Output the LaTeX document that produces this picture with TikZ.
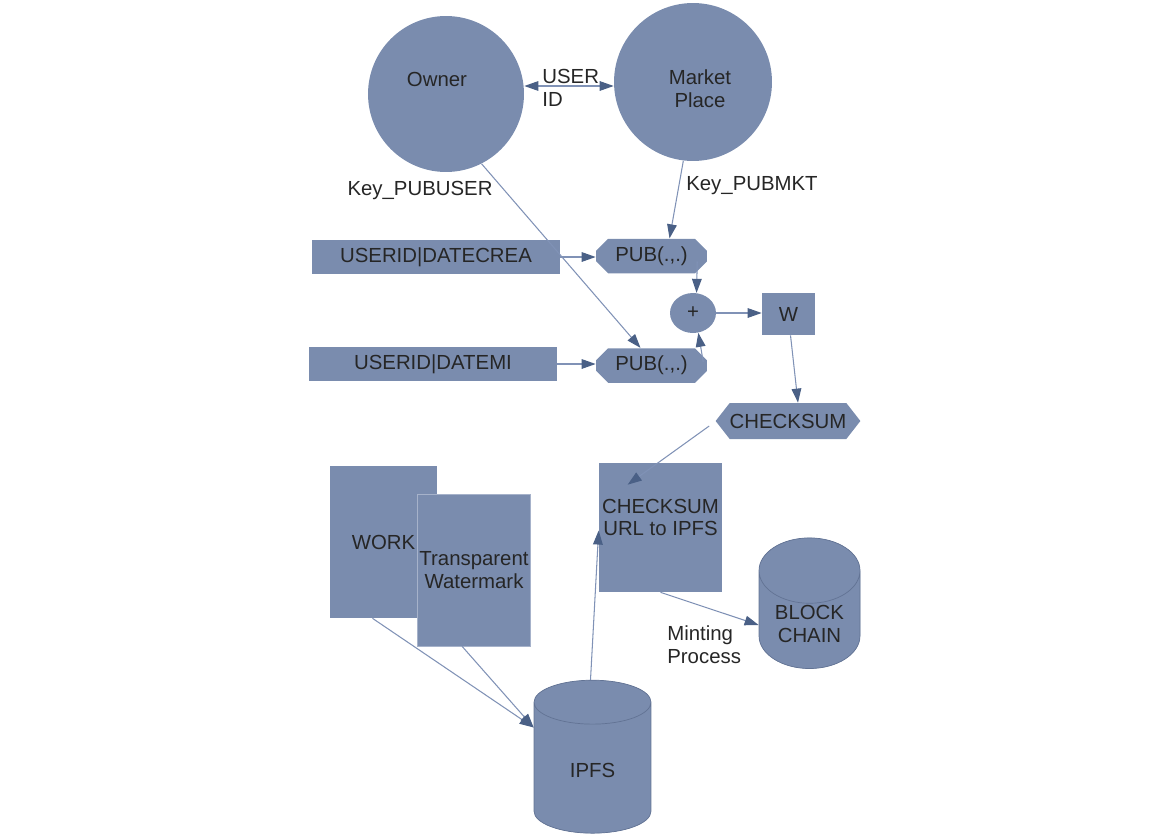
\documentclass[tikz,border=0pt]{standalone}
\usepackage{fontspec}
\setmainfont{Liberation Sans}
\usetikzlibrary{arrows.meta,shapes.geometric,shapes.misc,shapes.symbols}
\definecolor{slate}{RGB}{122,140,174}
\definecolor{slatetop}{RGB}{166,178,202}
\definecolor{slateedge}{RGB}{98,115,148}
\definecolor{wire}{RGB}{128,146,182}
\definecolor{tipc}{RGB}{74,96,134}
\definecolor{ink}{RGB}{38,38,38}
\tikzset{
  shp/.style={fill=slate, text=ink, font=\fontsize{11.6}{13}\selectfont,
              align=center, inner sep=1pt},
  rbox/.style={shp, rectangle},
  hub/.style={shp, circle},
  pubnode/.style={shp, chamfered rectangle, chamfered rectangle xsep=0.12cm,
                  chamfered rectangle ysep=0.12cm},
  store/.style={shp, cylinder, shape border rotate=90, aspect=0.9,
                draw=slateedge, line width=0.4pt, cylinder uses custom fill,
                cylinder body fill=slate, cylinder end fill=slate},
  lbl/.style={text=ink, font=\fontsize{11.6}{13}\selectfont, align=left,
              inner sep=0pt},
  inlbl/.style={lbl, align=center},
  flow/.style={draw=wire, line width=0.6pt,
               -{Triangle[length=8pt,width=5.5pt,color=tipc]}},
  both/.style={draw=wire, line width=0.6pt,
               {Triangle[length=8pt,width=5.5pt,color=tipc]}-{Triangle[length=8pt,width=5.5pt,color=tipc]}},
}
\begin{document}
\begin{tikzpicture}[x=0.02cm,y=-0.02cm]
  \useasboundingbox (0,0) rectangle (1159,835);
  % parties
  \node[hub, minimum size=3.12cm, label={[inlbl, shift={(-9,-15)}]center:Owner}] (own) at (446,94) {};
  \node[hub, minimum size=3.16cm, label={[inlbl, shift={(7,7)}]center:Market\\Place}] (mkt) at (693,82) {};
  \draw[both] (own.east |- 0,86) -- (mkt.west |- 0,86);
  \node[lbl, anchor=west] (uid) at (542,88) {USER\\ID};
  \node[lbl] (kuser) at (420,190) {Key\_PUBUSER};
  \node[lbl] (kmkt) at (752,186) {Key\_PUBMKT};
  % signed inputs
  \node[rbox, minimum width=4.96cm, minimum height=0.68cm] (dcrea) at (436,257) {USERID|DATECREA};
  \node[rbox, minimum width=4.96cm, minimum height=0.68cm] (demi) at (433,364) {USERID|DATEMI};
  \node[pubnode, minimum width=2.22cm, minimum height=0.64cm] (pub1) at (651.5,256) {PUB(.,.)};
  \node[pubnode, minimum width=2.22cm, minimum height=0.62cm] (pub2) at (651.5,365.5) {PUB(.,.)};
  \node[shp, ellipse, minimum width=0.92cm, minimum height=0.8cm] (plus) at (693,313) {+};
  \node[rbox, minimum width=1.06cm, minimum height=0.84cm] (w) at (788.5,314) {W};
  \node[shp, signal, signal to=west and east, signal pointer angle=104, inner sep=0pt,
        minimum width=2.56cm, minimum height=0.72cm] (hex) at (788,421) {CHECKSUM};
  % storage
  \node[rbox, minimum width=2.46cm, minimum height=2.58cm,
        label={[inlbl, shift={(0,-10)}]center:CHECKSUM\\URL to IPFS}] (chk) at (660.5,527.5) {};
  \node[rbox, minimum width=2.14cm, minimum height=3.04cm] (work) at (383.5,542) {WORK};
  \node[rbox, draw=slatetop, line width=0.3pt, minimum width=2.16cm, minimum height=3.04cm] (wmark) at (474,570) {Transparent\\Watermark};
  \node[store, cylinder end fill=slatetop, minimum width=2.34cm, minimum height=3.06cm] (ipfs) at (592.5,770.5) {IPFS};
  \node[store, minimum width=2.02cm, minimum height=2.45cm] (chain) at (809.5,624) {BLOCK\\CHAIN};
  \node[lbl, anchor=west] (mint) at (667,645) {Minting\\Process};

  \draw[flow] (own.-63) -- ([shift={(-11,0)}]pub2.north);
  \draw[flow] (mkt.-97) -- ([shift={(18,0)}]pub1.north);
  \draw[flow] (dcrea.east) -- (pub1.west |- dcrea.east);
  \draw[flow] (demi.east) -- (pub2.west |- demi.east);
  \draw[flow] ([shift={(-4,-6)}]pub1.south east) -- (plus.80);
  \draw[flow] ([shift={(2,8)}]pub2.north east) -- (plus.-75);
  \draw[flow] (plus.east) -- (plus.east -| w.west);
  \draw[flow] ([shift={(2,0)}]w.south) -- ([shift={(10,0)}]hex.north);
  \draw[flow] ([shift={(-6,5)}]hex.west) -- ([shift={(29,22)}]chk.north west);
  \draw[flow] ([shift={(-11,0)}]work.south) -- ([shift={(0,-43)}]ipfs.west);
  \draw[flow] ([shift={(-12,0)}]wmark.south) -- ([shift={(0,-43)}]ipfs.west);
  \draw[flow] ([shift={(-2,0)}]ipfs.north) -- ([shift={(0,3)}]chk.west);
  \draw[flow] (chk.south) -- ([shift={(0,1)}]chain.west);
\end{tikzpicture}
\end{document}
